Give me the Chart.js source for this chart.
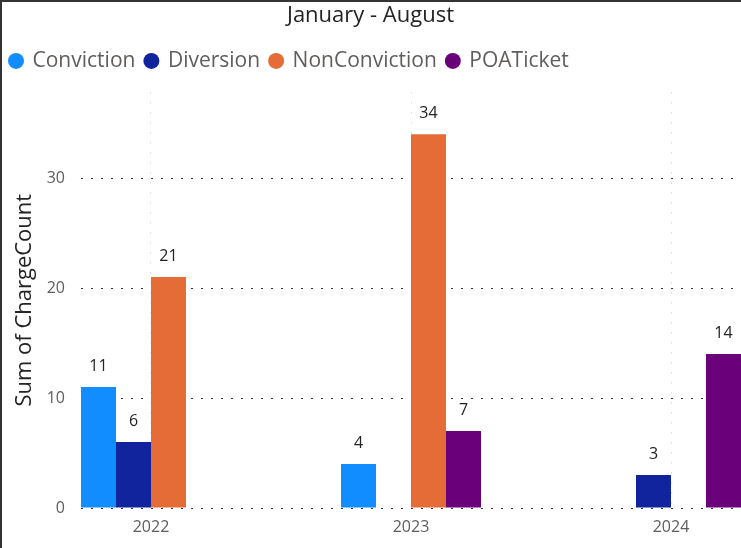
<!DOCTYPE html>
<html>
<head>
<meta charset="utf-8">
<script src="https://cdn.jsdelivr.net/npm/chart.js@4/dist/chart.umd.min.js"></script>
<style>
  html, body { margin: 0; padding: 0; background: #fff; }
  #wrap { position: relative; width: 741px; height: 548px; }
  #grafico { position: absolute; left: 0; top: 0; }
  #marco { position: absolute; left: 0; top: 0; right: 0; bottom: 0;
           border-left: 2px solid #333; border-top: 2px solid #333; pointer-events: none; }
</style>
</head>
<body>
<div id="wrap">
  <canvas id="grafico" width="741" height="548"></canvas>
  <div id="marco"></div>
</div>
<script>
// datos
const years = [2022, 2023, 2024];
const conviction = [11, 4, null];
const diversion = [6, null, 3];
const nonConviction = [21, 34, null];
const poaTicket = [null, 7, 14];
const yTicks = [0, 10, 20, 30];

const fuente = "'Segoe UI', 'Open Sans', sans-serif";

function puntos(valores) {
    return years.map((y, i) => ({ x: y, y: valores[i] }));
}

// numeros encima de las barras
const etiquetas = {
    id: 'etiquetas',
    afterDatasetsDraw(chart) {
        const ctx = chart.ctx;
        ctx.save();
        ctx.font = "16px " + fuente;
        ctx.fillStyle = '#252423';
        ctx.textAlign = 'center';
        ctx.textBaseline = 'middle';
        chart.data.datasets.forEach((ds, i) => {
            const meta = chart.getDatasetMeta(i);
            meta.data.forEach((bar, j) => {
                const v = ds.data[j].y;
                if (v === null || v === undefined) return;
                ctx.fillText(String(v), bar.x, bar.y - 21);
            });
        });
        ctx.restore();
    }
};

// espacio entre la leyenda y el grafico
const espacio = {
    id: 'espacio',
    beforeInit(chart) {
        Chart.layouts.addBox(chart, {
            position: 'top',
            weight: 500,
            fullSize: true,
            options: {},
            isHorizontal: () => true,
            update(maxWidth) { this.width = maxWidth; this.height = 11; },
            draw() {}
        });
    }
};

const dataset1 = { label: 'Conviction', data: puntos(conviction), backgroundColor: '#118DFF' };
const dataset2 = { label: 'Diversion', data: puntos(diversion), backgroundColor: '#12239E' };
const dataset3 = { label: 'NonConviction', data: puntos(nonConviction), backgroundColor: '#E66C37' };
const dataset4 = { label: 'POATicket', data: puntos(poaTicket), backgroundColor: '#6B007B' };

const graph = document.querySelector('#grafico');

const config = {
    type: 'bar',
    data: { datasets: [dataset1, dataset2, dataset3, dataset4] },
    options: {
        responsive: false,
        animation: false,
        layout: { padding: 0 },
        datasets: { bar: { categoryPercentage: 140 / 260, barPercentage: 1 } },
        plugins: {
            tooltip: { enabled: false },
            title: {
                display: true,
                text: 'January - August',
                color: '#252423',
                font: { family: fuente, size: 22, weight: 'normal' },
                padding: { top: 3, bottom: 11 }
            },
            legend: {
                align: 'start',
                labels: {
                    usePointStyle: true,
                    pointStyle: 'circle',
                    boxWidth: 12,
                    boxHeight: 11.3,
                    padding: 10,
                    color: '#605E5C',
                    font: { family: fuente, size: 21 }
                }
            }
        },
        scales: {
            x: {
                type: 'linear',
                offset: false,
                min: years[0] - 70 / 260,
                max: years[years.length - 1] + 70 / 260,
                afterBuildTicks: s => { s.ticks = years.map(v => ({ value: v })); },
                afterFit: s => { s.height = 40; },
                ticks: {
                    color: '#605E5C',
                    padding: 10,
                    font: { family: fuente, size: 16 },
                    callback: v => String(v)
                },
                grid: { offset: false, color: '#c8c8c8', drawTicks: false },
                border: { display: false, dash: [1, 9] }
            },
            y: {
                min: 0,
                max: 37.8,
                afterBuildTicks: s => { s.ticks = yTicks.map(v => ({ value: v })); },
                afterFit: s => { s.width = 81; },
                ticks: {
                    color: '#605E5C',
                    padding: 16,
                    font: { family: fuente, size: 16 }
                },
                title: {
                    display: true,
                    text: 'Sum of ChargeCount',
                    color: '#252423',
                    font: { family: fuente, size: 22 },
                    padding: { top: 12, bottom: 0 }
                },
                grid: { color: '#333', drawTicks: false },
                border: { display: false, dash: [2, 8] }
            }
        }
    },
    plugins: [etiquetas, espacio]
};

new Chart(graph, config);
</script>
</body>
</html>
